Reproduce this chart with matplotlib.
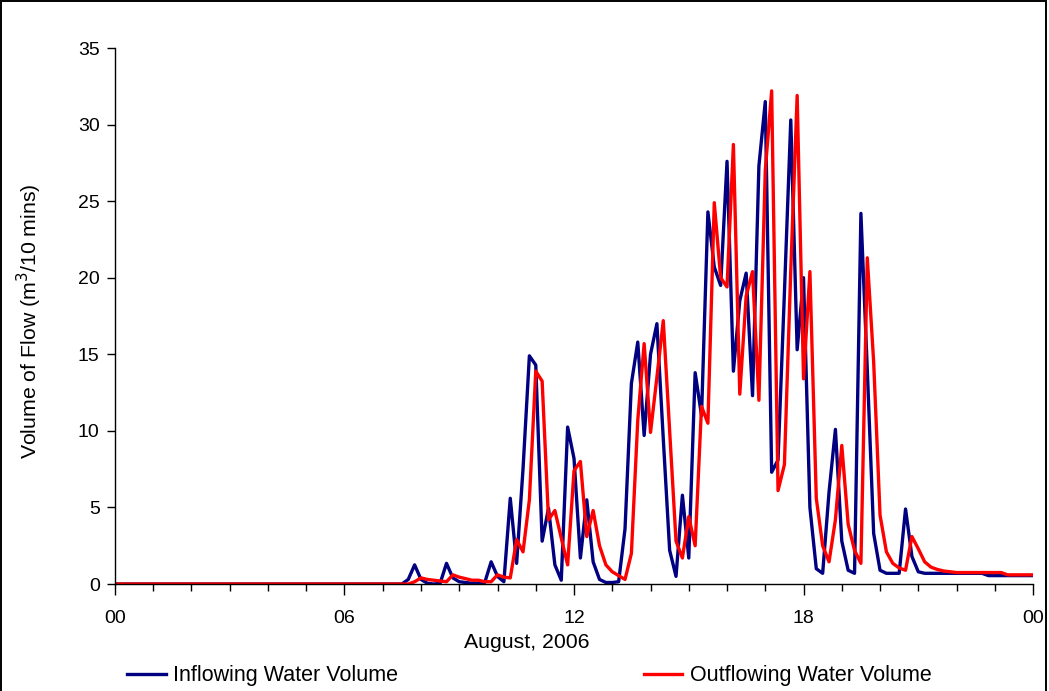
import numpy as np
import matplotlib.pyplot as plt
from matplotlib.patches import Rectangle

plt.rcParams['font.family'] = ['Liberation Sans', 'DejaVu Sans']

# 10-minute readings over 24 hours (00:00 .. 24:00)
inflow = [0.0] * 46 + [
    0.3, 1.25, 0.3, 0.05, 0.0, 0.05, 1.35, 0.4, 0.15, 0.1,        # 46-55
    0.05, 0.05, 0.1, 1.45, 0.5, 0.15, 5.6, 1.35, 7.5, 14.9,       # 56-65
    14.3, 2.8, 4.95, 1.25, 0.25, 10.25, 8.2, 1.7, 5.5, 1.45,      # 66-75
    0.3, 0.1, 0.1, 0.15, 3.6, 13.1, 15.8, 9.7, 15.0, 17.0,        # 76-85
    9.5, 2.2, 0.5, 5.8, 1.7, 13.8, 11.0, 24.3, 20.7, 19.5,        # 86-95
    27.6, 13.9, 18.5, 20.3, 12.3, 27.3, 31.5, 7.3, 8.1, 19.0,     # 96-105
    30.3, 15.3, 20.0, 5.0, 1.0, 0.7, 6.0, 10.1, 2.8, 0.9,         # 106-115
    0.7, 24.2, 14.0, 3.3, 0.9, 0.7, 0.7, 0.7, 4.9, 1.8,           # 116-125
    0.8, 0.7, 0.7, 0.7, 0.7, 0.7, 0.7, 0.7, 0.7, 0.7,             # 126-135
    0.7, 0.55, 0.55, 0.55, 0.55, 0.55, 0.55, 0.55, 0.55,          # 136-144
]
outflow = [0.0] * 47 + [
    0.15, 0.4, 0.3, 0.25, 0.2, 0.15, 0.6, 0.45, 0.35,             # 47-55
    0.25, 0.25, 0.15, 0.15, 0.6, 0.45, 0.4, 2.9, 2.1, 5.5,        # 56-65
    13.9, 13.25, 4.2, 4.8, 3.0, 1.25, 7.4, 8.0, 3.1, 4.8,         # 66-75
    2.5, 1.25, 0.8, 0.55, 0.3, 2.0, 10.7, 15.7, 9.9, 13.5,        # 76-85
    17.2, 10.0, 2.8, 1.7, 4.4, 2.5, 11.6, 10.5, 24.9, 20.0,       # 86-95
    19.4, 28.7, 12.4, 18.8, 20.4, 12.0, 27.0, 32.2, 6.1, 7.8,     # 96-105
    20.5, 31.9, 13.4, 20.4, 5.6, 2.5, 1.45, 4.2, 9.05, 3.9,       # 106-115
    2.2, 1.35, 21.3, 14.5, 4.5, 2.1, 1.35, 1.05, 0.9, 3.1,        # 116-125
    2.3, 1.45, 1.1, 0.95, 0.85, 0.8, 0.75, 0.75, 0.75, 0.75,      # 126-135
    0.75, 0.75, 0.75, 0.75, 0.6, 0.6, 0.6, 0.6, 0.6,              # 136-144
]
hours = np.arange(len(inflow)) / 6.0

hour_ticks = [0, 6, 12, 18, 24]
hour_labels = ['00', '06', '12', '18', '00']
y_ticks = [0, 5, 10, 15, 20, 25, 30, 35]

fig = plt.figure(figsize=(10.49, 6.91), dpi=100)
ax = fig.add_axes([0.1096, 0.1548, 0.8752, 0.7757])

ax.plot(hours, inflow, color='#000080', lw=2.4, label='Inflowing Water Volume')
ax.plot(hours, outflow, color='#ff0000', lw=2.4, label='Outflowing Water Volume')

ax.set_xlim(0, 24)
ax.set_ylim(0, 35)
ax.set_xticks(hour_ticks)
ax.set_xticklabels(hour_labels)
ax.set_xticks(np.arange(0, 25, 1), minor=True)
ax.set_yticks(y_ticks)

for side in ('top', 'right'):
    ax.spines[side].set_visible(False)
for side in ('left', 'bottom'):
    ax.spines[side].set_linewidth(1.0)

ax.tick_params(axis='both', which='major', labelsize=14, direction='out',
               length=6, width=1.0, color='black')
ax.tick_params(axis='x', which='major', length=8, pad=11)
ax.tick_params(axis='x', which='minor', length=5, width=1.0)
ax.tick_params(axis='y', which='major', pad=5)

ax.set_ylabel('Volume of Flow (m$^3$/10 mins)', fontsize=15.3)
ax.yaxis.set_label_coords(-0.077, 0.49)
fig.text(527 / 1049, 1 - 643 / 691, 'August, 2006', ha='center', va='center',
         fontsize=15.3)

fig.legend(loc='center left', bbox_to_anchor=(127 / 1049, 1 - 676 / 691),
           ncol=2, frameon=False, fontsize=15.5, handlelength=1.8,
           handletextpad=0.35, columnspacing=11.4, borderpad=0, borderaxespad=0)

# frame around the chart (open at the bottom edge)
fig.patches.append(Rectangle((0.001, -0.01), 0.996, 1.009, transform=fig.transFigure,
                             fill=False, edgecolor='black', lw=1.4))

fig.savefig('out.png', dpi=100)
